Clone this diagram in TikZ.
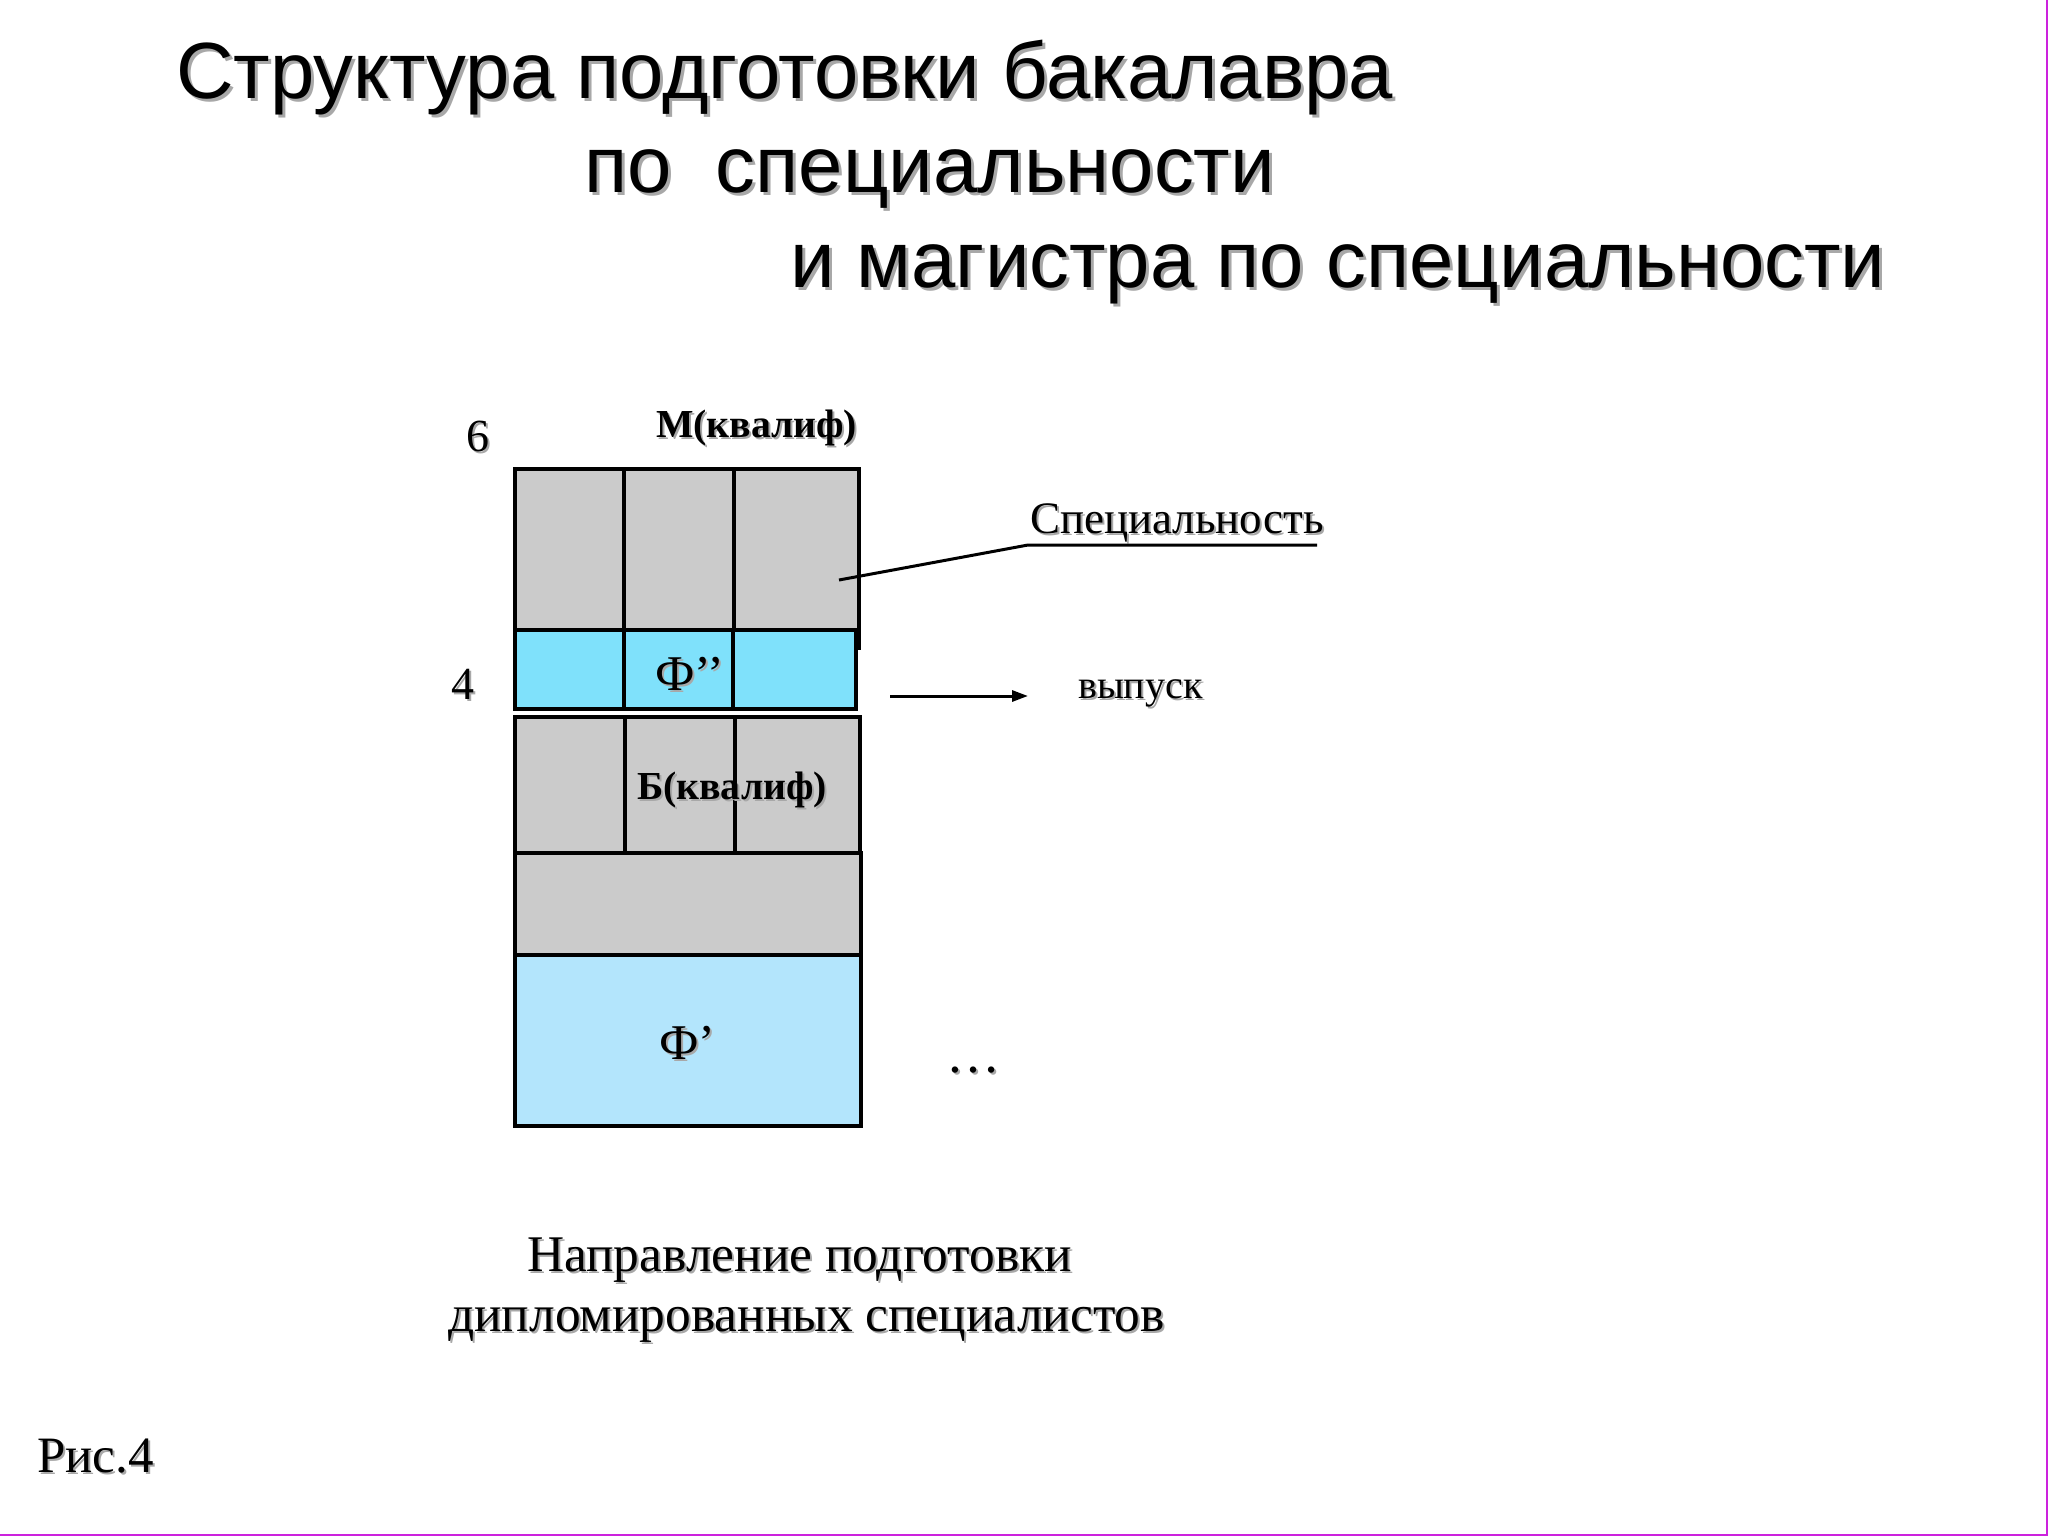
\documentclass[tikz,border=0pt]{standalone}
\usepackage{fontspec}
\setmainfont{Liberation Serif}
\newfontfamily\arialf{Liberation Sans}
\usetikzlibrary{arrows.meta}
\definecolor{cellgray}{HTML}{CBCBCB}
\definecolor{cellcyan}{HTML}{7FE1FB}
\definecolor{celllight}{HTML}{B3E5FC}
\definecolor{shadowc}{HTML}{A8A8A8}
\definecolor{framemag}{HTML}{CC22DD}
\newcommand{\shd}[2]{\makebox[0pt][l]{\hspace*{#1}\raisebox{-#1}{\textcolor{shadowc}{#2}}}#2}
\newcommand{\fsz}[1]{\fontsize{#1}{#1}\selectfont}
\begin{document}
\begin{tikzpicture}[x=1pt,y=-1pt,
  txt/.style={inner sep=0pt, anchor=base west},
  titlef/.style={font=\arialf\fsz{79.7}},
  serif/.style={font=\fsz{#1}},
  bserif/.style={font=\bfseries\fsz{#1}},
  cellline/.style={line width=3.5pt, line join=miter},
  leader/.style={line width=3pt}]
\useasboundingbox (0,0) rectangle (2048,1536);
\fill[white] (0,0) rectangle (2048,1536);
% title
\node[txt, titlef] (t1) at (176,99) {\shd{3pt}{Структура подготовки бакалавра}};
\node[txt, titlef] (t2) at (584,192) {\shd{3pt}{по\ \ специальности}};
\node[txt, titlef] (t3) at (790,287) {\shd{3pt}{и магистра по специальности}};
% column
\filldraw[cellline, fill=cellgray] (515,469) rectangle (859,630);
\draw[cellline] (624,469) -- (624,630);
\draw[cellline] (734,469) -- (734,630);
\filldraw[cellline, fill=cellcyan] (515,630) rectangle (856,709);
\draw[cellline] (624,630) -- (624,709);
\draw[cellline] (733,630) -- (733,709);
\draw[cellline] (859,469) -- (859,650);
\filldraw[cellline, fill=cellgray] (515,717) rectangle (860,853);
\draw[cellline] (625,717) -- (625,853);
\draw[cellline] (735,717) -- (735,853);
\filldraw[cellline, fill=cellgray] (515,853) rectangle (861,955);
\filldraw[cellline, fill=celllight] (515,955) rectangle (861,1126);
% labels in column
\node[txt, serif=46] (six) at (466,451) {\shd{2pt}{6}};
\node[txt, serif=46] (four) at (451,699) {\shd{2pt}{4}};
\node[txt, bserif=39.7] (mq) at (656,437) {\shd{2pt}{М(квалиф)}};
\node[txt, bserif=39.7] (bq) at (637,799) {\shd{2pt}{Б(квалиф)}};
\node[txt, serif=50] (f2) at (655,690) {\shd{2pt}{Ф’’}};
\node[txt, serif=50] (f1) at (659,1059) {\shd{2pt}{Ф’}};
% right side
\node[txt, serif=45] (spec) at (1030,533) {\shd{2pt}{Специальность}};
\coordinate (ls) at (839,580);
\coordinate (lk) at (1028,545);
\coordinate (le) at (1317,545);
\draw[leader] (ls) -- (lk) -- (le);
\coordinate (as) at (890,696);
\coordinate (ae) at (1028,696);
\draw[leader, -{Triangle[length=16pt,width=11pt]}] (as) -- (ae);
\node[txt, serif=40] (vyp) at (1078,698) {\shd{2pt}{выпуск}};
\node[txt, serif=54] (dots) at (946,1072) {\shd{2pt}{…}};
% bottom
\node[txt, serif=51.4] (b1) at (527,1271) {\shd{2pt}{Направление подготовки}};
\node[txt, serif=51.4] (b2) at (448,1331) {\shd{2pt}{дипломированных специалистов}};
\node[txt, serif=51] (fig) at (37,1472) {\shd{2pt}{Рис.4}};
% frame
\draw[framemag, line width=2.5pt] (2047,0) -- (2047,1535) -- (0,1535);
\end{tikzpicture}
\end{document}
